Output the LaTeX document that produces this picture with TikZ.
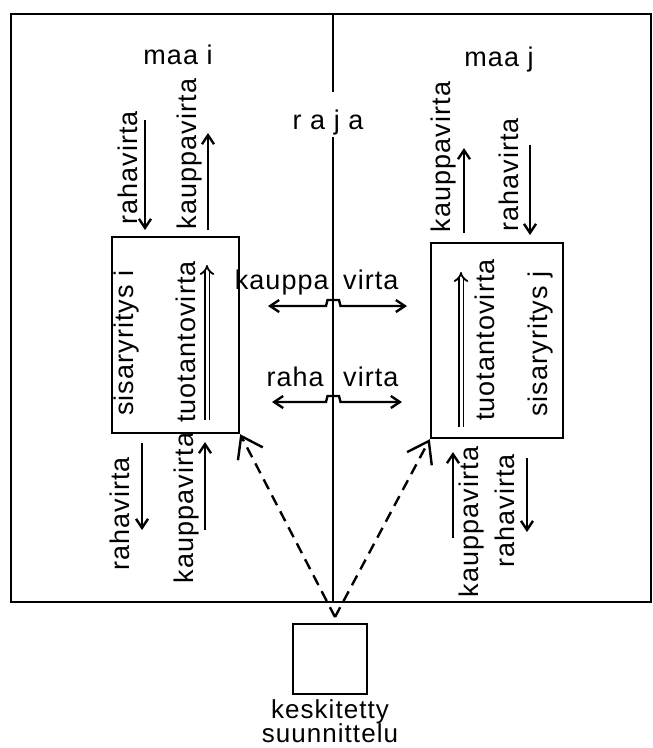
\documentclass[tikz,border=0pt]{standalone}
\usepackage{fontspec}
\setmainfont{Liberation Sans}[LetterSpace=4]
\usepackage{tikz}
\usetikzlibrary{positioning, arrows.meta}
\tikzset{kasten/.style={rectangle,draw,inner sep=0},
	schrift/.style={inner sep=0, font=\fontsize{27}{30}\selectfont},
	senkrecht/.style={schrift, rotate=90},
	fluss/.style={-{Straight Barb[length=9pt, width=12pt]}},
	hinher/.style={{Straight Barb[length=9pt, width=12pt]}-{Straight Barb[length=9pt, width=12pt]}},
	doppel/.style={double, double distance=3pt, line width=1.8pt, -{Implies[length=12pt, width=22pt]}},
	plan/.style={dash pattern=on 11pt off 7pt, -{Straight Barb[length=20pt, width=28pt]}},
	eng/.style={align=center, font={\fontsize{26}{24}\selectfont\lineskiplimit -20pt\relax}},
	helper/.style={inner sep=0} }

\begin{document}
\begin{tikzpicture}
	[x=1pt, y=-1pt, line width=2.4pt]
	\useasboundingbox (0,0) rectangle (653,748);

	% rahmen und raja
	\draw [line width=2.8pt] (11,14) rectangle (651,602);
	\coordinate (oben) at (333,14);
	\coordinate (unten) at (333,602);
	\node (raja) [schrift] at (328,123) {r a j a};
	\draw (oben) -- ([yshift=17pt]oben |- raja.north);
	\draw (oben |- raja.south) -- (unten);

	\node (maai) [schrift] at (178,55) {maa i};
	\node (maaj) [schrift] at (499,60) {maa j};

	\node (yi) [kasten, minimum width=127pt, minimum height=196pt] at (175.5,335) {};
	\node (yj) [kasten, minimum width=132pt, minimum height=195pt] at (497,340.5) {};
	\node (ks) [kasten, minimum width=74pt, minimum height=70pt] at (330,659) {};
	\node (kt) [schrift, eng, below=3pt of ks] {keskitetty\\suunnittelu};

	\node (si) [senkrecht] at (126.5,343) {sisaryritys i};
	\node (ti) [senkrecht] at (186,342) {tuotantovirta};
	\node (tj) [senkrecht] at (485,340) {tuotantovirta};
	\node (sj) [senkrecht] at (541,344) {sisaryritys j};
	\coordinate (ti1) at (207,420);
	\coordinate (ti2) at (207,265);
	\coordinate (tj1) at (461,427);
	\coordinate (tj2) at (461,272);
	\draw [doppel] (ti1) -- (ti2);
	\draw [doppel] (tj1) -- (tj2);

	\node (rhi) [senkrecht] at (127.5,168) {rahavirta};
	\node (kpi) [senkrecht] at (190,154) {kauppavirta};
	\node (rhi2) [senkrecht] at (119.5,514) {rahavirta};
	\node (kpi2) [senkrecht] at (187,508) {kauppavirta};
	\node (kpj) [senkrecht] at (444,157) {kauppavirta};
	\node (rhj) [senkrecht] at (509,175) {rahavirta};
	\node (kpj2) [senkrecht] at (472,522) {kauppavirta};
	\node (rhj2) [senkrecht] at (505,511) {rahavirta};

	\coordinate (a1) at (145,120);   \coordinate (b1) at (145,230);
	\coordinate (a2) at (208,230);   \coordinate (b2) at (208,133);
	\coordinate (a3) at (142,443);   \coordinate (b3) at (142,530);
	\coordinate (a4) at (205,530);   \coordinate (b4) at (205,442);
	\coordinate (a5) at (464,233);   \coordinate (b5) at (464,148);
	\coordinate (a6) at (530,145);   \coordinate (b6) at (530,235);
	\coordinate (a7) at (453,538);   \coordinate (b7) at (453,452);
	\coordinate (a8) at (527,458);   \coordinate (b8) at (527,532);
	\draw [fluss] (a1) -- (b1);
	\draw [fluss] (a2) -- (b2);
	\draw [fluss] (a3) -- (b3);
	\draw [fluss] (a4) -- (b4);
	\draw [fluss] (a5) -- (b5);
	\draw [fluss] (a6) -- (b6);
	\draw [fluss] (a7) -- (b7);
	\draw [fluss] (a8) -- (b8);

	\node (kauppa) [schrift, anchor=base east] at (330,289) {kauppa};
	\node (virta1) [schrift, anchor=base west] at (342,289) {virta};
	\node (raha) [schrift, anchor=base east] at (325,386) {raha};
	\node (virta2) [schrift, anchor=base west] at (342,386) {virta};
	\coordinate (kl) at (268,306);
	\coordinate (kr) at (407,306);
	\coordinate (rl) at (272,402);
	\coordinate (rr) at (402,402);
	\draw [hinher] (kl) -- (326,306) -- (327.5,300) -- (339,300) -- (340.5,306) -- (kr);
	\draw [hinher] (rl) -- (326,402) -- (327.5,396) -- (339,396) -- (340.5,402) -- (rr);

	\coordinate (spitze) at (335,617);
	\draw [plan] (spitze) -- (yi.south east);
	\draw [plan] (spitze) -- (yj.south west);
\end{tikzpicture}
\end{document}
